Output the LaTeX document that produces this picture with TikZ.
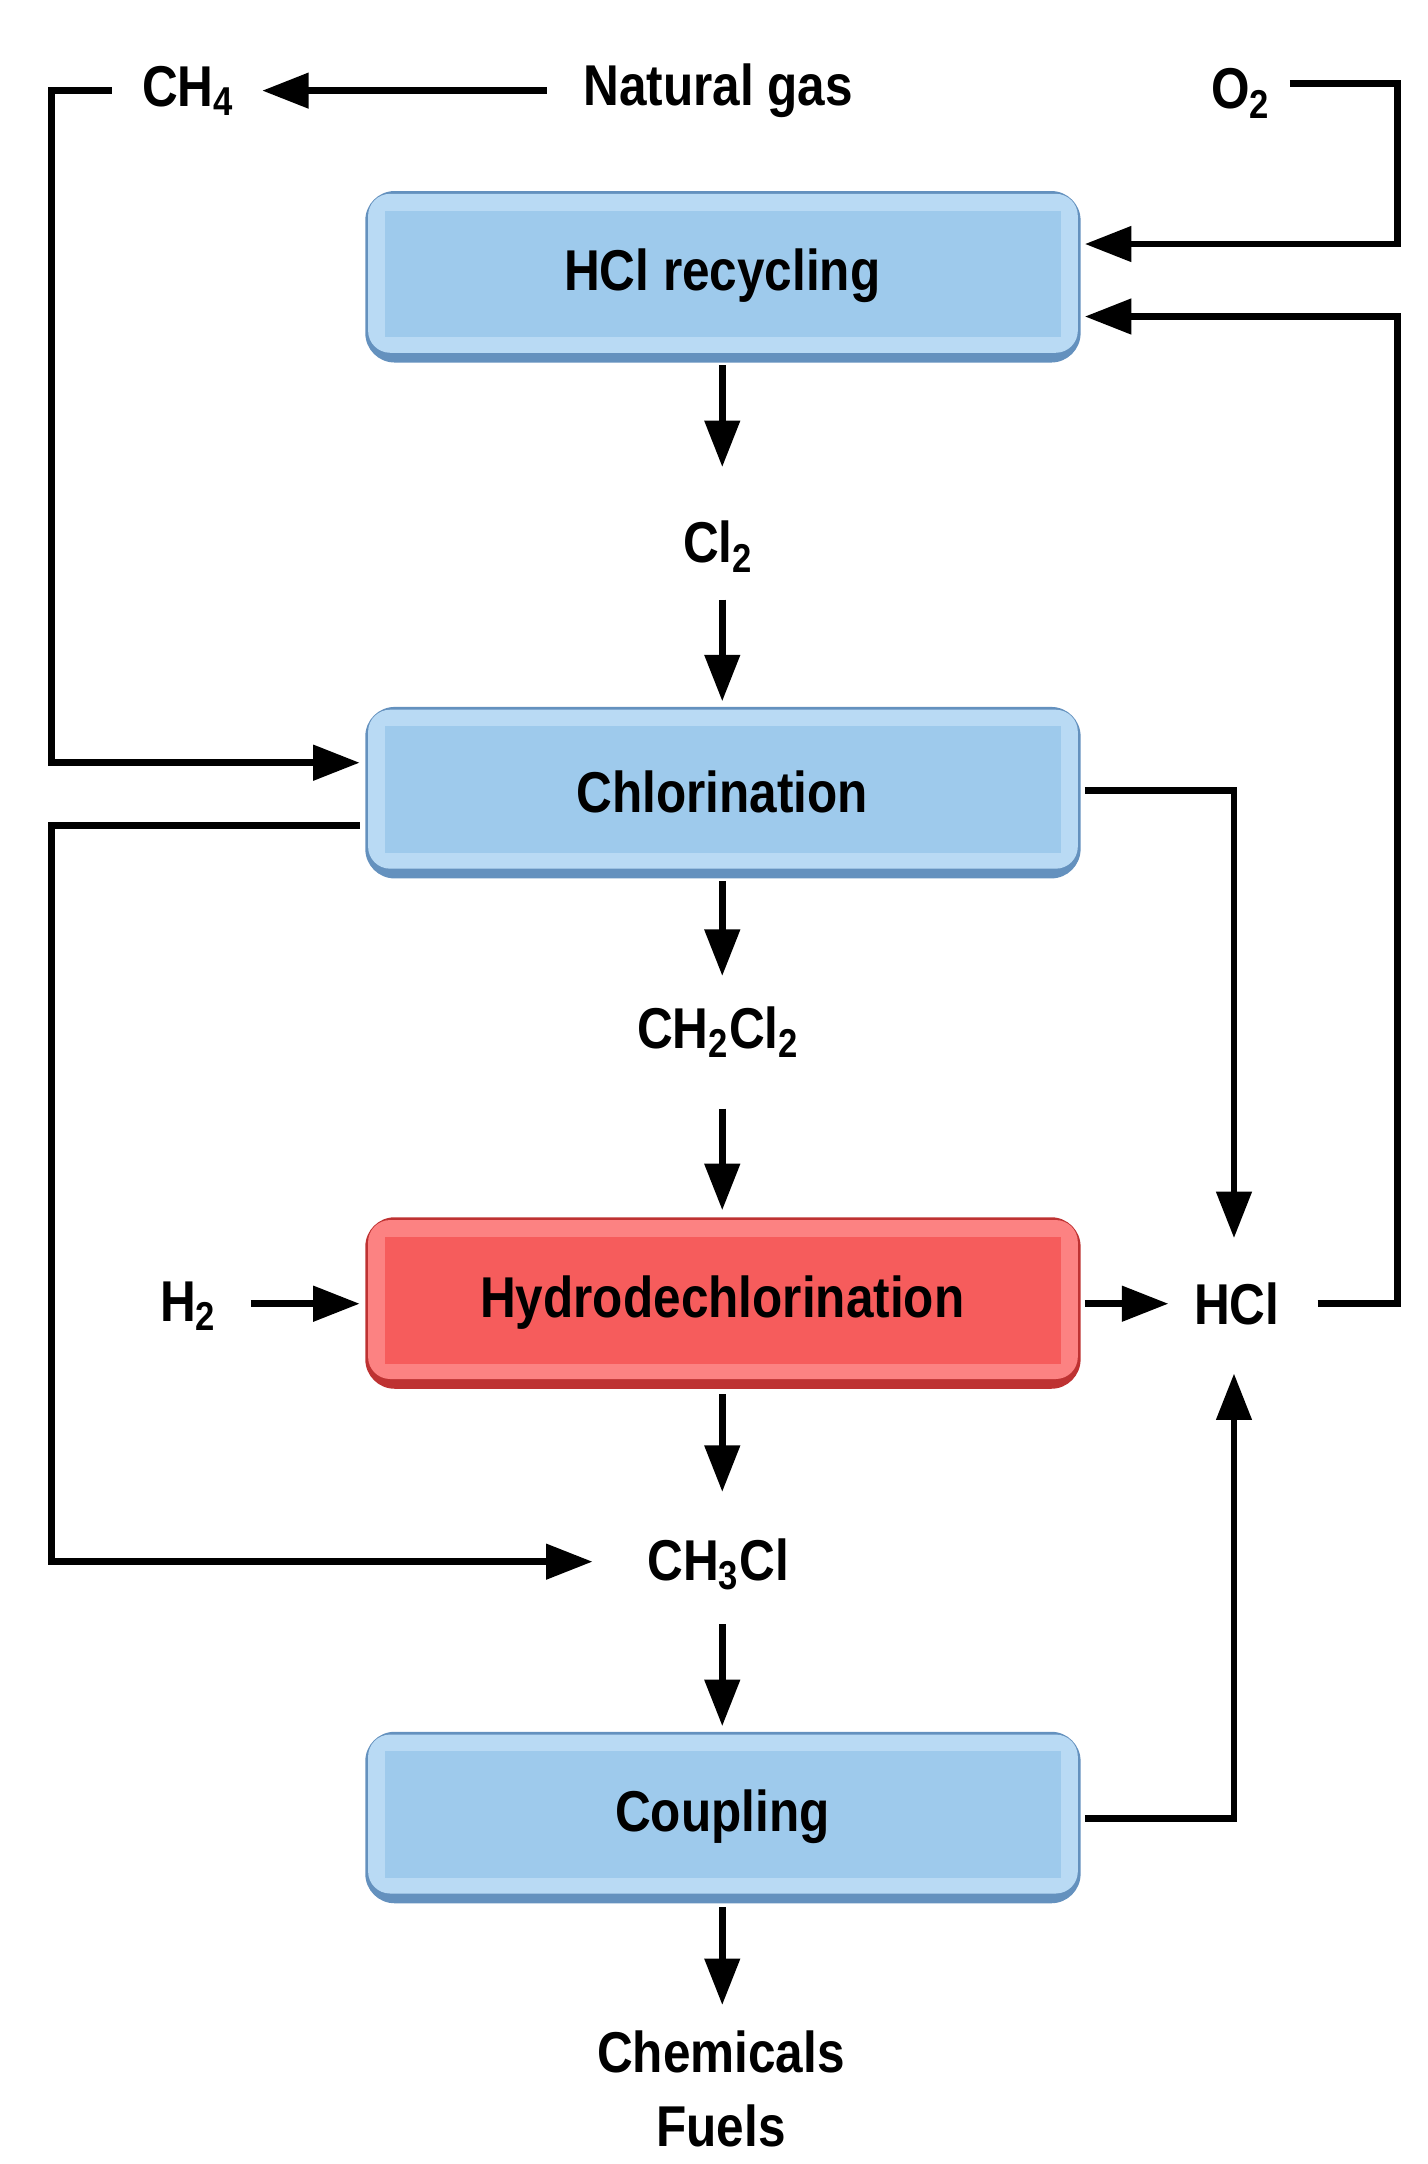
\documentclass[tikz,border=0pt]{standalone}
\usepackage{fontspec}
\setmainfont{Liberation Sans}[FakeStretch=0.86]
\usetikzlibrary{arrows.meta}
\definecolor{bmain}{RGB}{158,202,236}
\definecolor{bedge}{RGB}{100,145,190}
\definecolor{blight}{RGB}{185,218,244}
\definecolor{rmain}{RGB}{246,92,92}
\definecolor{redge}{RGB}{190,50,50}
\definecolor{rlight}{RGB}{252,130,130}
\newcommand\mysub[1]{\textsubscript{#1}}
\begin{document}
\begin{tikzpicture}[x=0.02cm,y=-0.02cm,
  lbl/.style={font=\bfseries\fontsize{23.5}{27}\selectfont},
  ar/.style={line width=2.8pt,-{Triangle[length=19pt,width=14pt]}}]
\useasboundingbox (0,0) rectangle (1024,1552);
\newcommand\bx[5]{% name, ytop, main, edge, light
  \fill[#4,rounded corners=12pt] (262,#2) rectangle (775,#2+123);
  \fill[#5,rounded corners=9pt] (264,#2+2) rectangle (773,#2+116);
  \fill[#3] (276,#2+14) rectangle (761,#2+105);
  \node[lbl] (#1) at (518,#2+61) {};
}
\bx{rec}{137}{bmain}{bedge}{blight}
\bx{chl}{507}{bmain}{bedge}{blight}
\bx{hyd}{873}{rmain}{redge}{rlight}
\bx{cou}{1242}{bmain}{bedge}{blight}
\node[lbl] at (rec) {HCl recycling};
\node[lbl] at (chl) {Chlorination};
\node[lbl] at (hyd) {Hydrodechlorination};
\node[lbl] at (cou) {Coupling};
\node[lbl] (ch4) at (135,65) {CH\mysub{4}};
\node[lbl] (ng) at (515,65) {Natural gas};
\node[lbl] (o2) at (890,67) {O\mysub{2}};
\node[lbl] (cl2) at (515,392) {Cl\mysub{2}};
\node[lbl] (ch2) at (515,740) {CH\mysub{2}Cl\mysub{2}};
\node[lbl] (h2) at (135,937) {H\mysub{2}};
\node[lbl] (hcl) at (887,935) {HCl};
\node[lbl] (ch3) at (515,1122) {CH\mysub{3}Cl};
\node[lbl,align=center] (chem) at (517,1498) {Chemicals\\[3pt]Fuels};
\coordinate (a1) at (392,65); \coordinate (a2) at (188,65);
\draw[ar] (a1) -- (a2);
\draw[ar] (80,65) -- (37,65) -- (37,547) -- (258,547);
\draw[ar] (925,60) -- (1002,60) -- (1002,175) -- (778,175);
\draw[ar] (945,935) -- (1002,935) -- (1002,227) -- (778,227);
\draw[ar] (778,567) -- (885,567) -- (885,888);
\draw[ar] (258,592) -- (37,592) -- (37,1120) -- (425,1120);
\draw[ar] (778,1304) -- (885,1304) -- (885,985);
\draw[ar] (518,262) -- (518,335);
\draw[ar] (518,430) -- (518,503);
\draw[ar] (518,632) -- (518,700);
\draw[ar] (518,795) -- (518,868);
\draw[ar] (518,1000) -- (518,1070);
\draw[ar] (518,1165) -- (518,1238);
\draw[ar] (518,1368) -- (518,1438);
\draw[ar] (180,935) -- (258,935);
\draw[ar] (778,935) -- (838,935);
\end{tikzpicture}
\end{document}
